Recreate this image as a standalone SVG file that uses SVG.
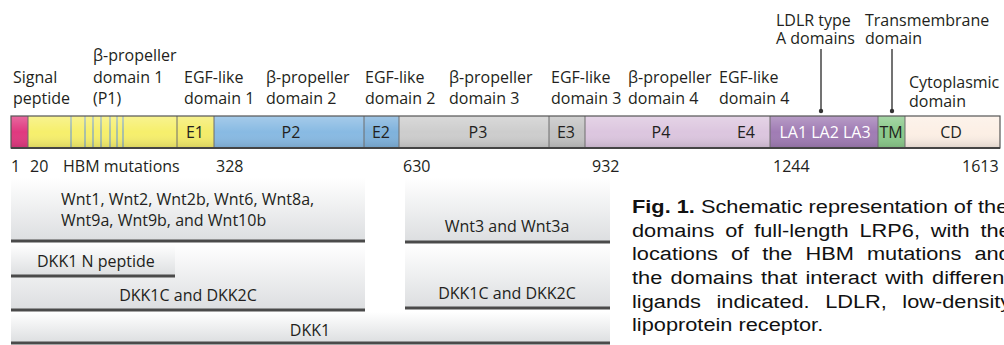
<svg xmlns="http://www.w3.org/2000/svg" width="1004" height="345" viewBox="0 0 1004 345">
<defs>
<linearGradient id="shade" x1="0" y1="0" x2="0" y2="1">
<stop offset="0" stop-color="#fff" stop-opacity="0.25"/>
<stop offset="0.5" stop-color="#fff" stop-opacity="0"/>
<stop offset="1" stop-color="#000" stop-opacity="0.12"/>
</linearGradient>
<linearGradient id="lig" x1="0" y1="0" x2="0" y2="1">
<stop offset="0" stop-color="#ffffff"/>
<stop offset="1" stop-color="#dcdee0"/>
</linearGradient>
</defs>
<style>
text{font-family:"Open Sans","DejaVu Sans",sans-serif;font-size:16px;fill:#231f20}
.c{text-anchor:middle}
.w{fill:#ffffff}
.seg{stroke:#6d6d6d;stroke-width:1}
.lead{stroke:#444;stroke-width:1.5;fill:none}
.base{stroke:#4a4a4a;stroke-width:3}
.cap{font-family:"Liberation Sans",Arial,sans-serif;font-size:18px;fill:#111}
.hbm{stroke:#8fb0b8;stroke-width:1.5}
</style>
<rect width="1004" height="345" fill="#ffffff"/>

<g id="labels">
<text x="13" y="83">Signal</text>
<text x="13" y="104">peptide</text>
<text x="93" y="61">β-propeller</text>
<text x="93" y="83">domain 1</text>
<text x="93" y="104">(P1)</text>
<text x="184" y="83">EGF-like</text>
<text x="184" y="104">domain 1</text>
<text x="266" y="83">β-propeller</text>
<text x="266" y="104">domain 2</text>
<text x="365" y="83">EGF-like</text>
<text x="365" y="104">domain 2</text>
<text x="449" y="83">β-propeller</text>
<text x="449" y="104">domain 3</text>
<text x="551" y="83">EGF-like</text>
<text x="551" y="104">domain 3</text>
<text x="628" y="83">β-propeller</text>
<text x="628" y="104">domain 4</text>
<text x="719" y="83">EGF-like</text>
<text x="719" y="104">domain 4</text>
<text x="776" y="26">LDLR type</text>
<text x="776" y="44">A domains</text>
<text x="865" y="26">Transmembrane</text>
<text x="865" y="44">domain</text>
<text x="909" y="88">Cytoplasmic</text>
<text x="909" y="107">domain</text>
</g>

<g id="connectors">
<line class="lead" x1="821" y1="49" x2="821" y2="111"/>
<circle cx="821" cy="111" r="2.2" fill="#333"/>
<line class="lead" x1="892" y1="49" x2="892" y2="111"/>
<circle cx="892" cy="111" r="2.2" fill="#333"/>
</g>

<g id="protein-bar">
<rect x="11" y="116" width="17" height="32" fill="#e0387f"/>
<rect x="28" y="116" width="149" height="32" fill="#f6ef6c"/>
<rect x="177" y="116" width="37" height="32" fill="#f4ec6a"/>
<rect x="214" y="116" width="150" height="32" fill="#88bae3"/>
<rect x="364" y="116" width="35" height="32" fill="#7fb2dc"/>
<rect x="399" y="116" width="150" height="32" fill="#cdcdcd"/>
<rect x="549" y="116" width="36" height="32" fill="#c2c2c2"/>
<rect x="585" y="116" width="185" height="32" fill="#dcc6df"/>
<rect x="770" y="116" width="108" height="32" fill="#a07cb4"/>
<rect x="878" y="116" width="27" height="32" fill="#8ac98a"/>
<rect x="905" y="116" width="95" height="32" fill="#fcefe5"/>
<g>
<line class="hbm" x1="71" y1="116" x2="71" y2="148"/>
<line class="hbm" x1="85" y1="116" x2="85" y2="148"/>
<line class="hbm" x1="93" y1="116" x2="93" y2="148"/>
<line class="hbm" x1="101" y1="116" x2="101" y2="148"/>
<line class="hbm" x1="110" y1="116" x2="110" y2="148"/>
<line class="hbm" x1="117" y1="116" x2="117" y2="148"/>
<line class="hbm" x1="123" y1="116" x2="123" y2="148"/>
</g>
<rect x="11" y="116" width="989" height="32" fill="url(#shade)"/>
<g class="seg">
<line x1="28" y1="116" x2="28" y2="148"/>
<line x1="177" y1="116" x2="177" y2="148"/>
<line x1="214" y1="116" x2="214" y2="148"/>
<line x1="364" y1="116" x2="364" y2="148"/>
<line x1="399" y1="116" x2="399" y2="148"/>
<line x1="549" y1="116" x2="549" y2="148"/>
<line x1="585" y1="116" x2="585" y2="148"/>
<line x1="770" y1="116" x2="770" y2="148"/>
<line x1="878" y1="116" x2="878" y2="148"/>
<line x1="905" y1="116" x2="905" y2="148"/>
</g>
<rect x="11" y="116" width="989" height="32" fill="none" stroke="#555" stroke-width="1.2"/>
<line x1="11" y1="148" x2="1000" y2="148" stroke="#444" stroke-width="2"/>
<text class="c" x="195" y="138">E1</text>
<text class="c" x="291" y="138">P2</text>
<text class="c" x="381" y="138">E2</text>
<text class="c" x="478" y="138">P3</text>
<text class="c" x="566" y="138">E3</text>
<text class="c" x="661" y="138">P4</text>
<text class="c" x="746" y="138">E4</text>
<text class="c w" x="825" y="138">LA1 LA2 LA3</text>
<text class="c" x="891" y="138">TM</text>
<text class="c" x="951" y="138">CD</text>
</g>

<g id="positions">
<text x="11" y="172">1</text>
<text x="30" y="172">20</text>
<text x="63" y="172">HBM mutations</text>
<text x="216" y="172">328</text>
<text x="403" y="172">630</text>
<text x="592" y="172">932</text>
<text x="773" y="172">1244</text>
<text x="962" y="172">1613</text>
</g>

<g id="lig-wnt1">
<rect x="11" y="178" width="354" height="63" fill="url(#lig)"/>
<line class="base" x1="11" y1="241" x2="365" y2="241"/>
<text x="61" y="205">Wnt1, Wnt2, Wnt2b, Wnt6, Wnt8a,</text>
<text x="61" y="226">Wnt9a, Wnt9b, and Wnt10b</text>
</g>
<g id="lig-wnt3">
<rect x="405" y="178" width="205" height="64" fill="url(#lig)"/>
<line class="base" x1="405" y1="242" x2="610" y2="242"/>
<text class="c" x="507" y="232">Wnt3 and Wnt3a</text>
</g>
<g id="lig-dkkc-left">
<rect x="11" y="244" width="354" height="66" fill="url(#lig)"/>
<line class="base" x1="11" y1="310" x2="365" y2="310"/>
<text class="c" x="188" y="301">DKK1C and DKK2C</text>
</g>
<g id="lig-dkkn">
<rect x="11" y="244" width="164" height="32" fill="url(#lig)"/>
<line class="base" x1="11" y1="276" x2="175" y2="276"/>
<text x="37" y="267">DKK1 N peptide</text>
</g>
<g id="lig-dkkc-right">
<rect x="405" y="244" width="205" height="64" fill="url(#lig)"/>
<line class="base" x1="405" y1="308" x2="610" y2="308"/>
<text class="c" x="507" y="299">DKK1C and DKK2C</text>
</g>
<g id="lig-dkk1">
<rect x="11" y="312" width="599" height="31" fill="url(#lig)"/>
<line class="base" x1="11" y1="343" x2="610" y2="343"/>
<text class="c" x="310" y="336">DKK1</text>
</g>

<g id="caption" transform="translate(632 0) scale(1.21 1)">
<text class="cap" x="0" y="213"><tspan font-weight="bold">Fig. 1.</tspan> Schematic representation of the</text>
<text class="cap" x="0" y="237" word-spacing="4">domains of full-length LRP6, with the</text>
<text class="cap" x="0" y="260" word-spacing="5.8">locations of the HBM mutations and</text>
<text class="cap" x="0" y="284" word-spacing="1.8">the domains that interact with different</text>
<text class="cap" x="0" y="308" word-spacing="7.8">ligands indicated. LDLR, low-density</text>
<text class="cap" x="0" y="331">lipoprotein receptor.</text>
</g>
</svg>
